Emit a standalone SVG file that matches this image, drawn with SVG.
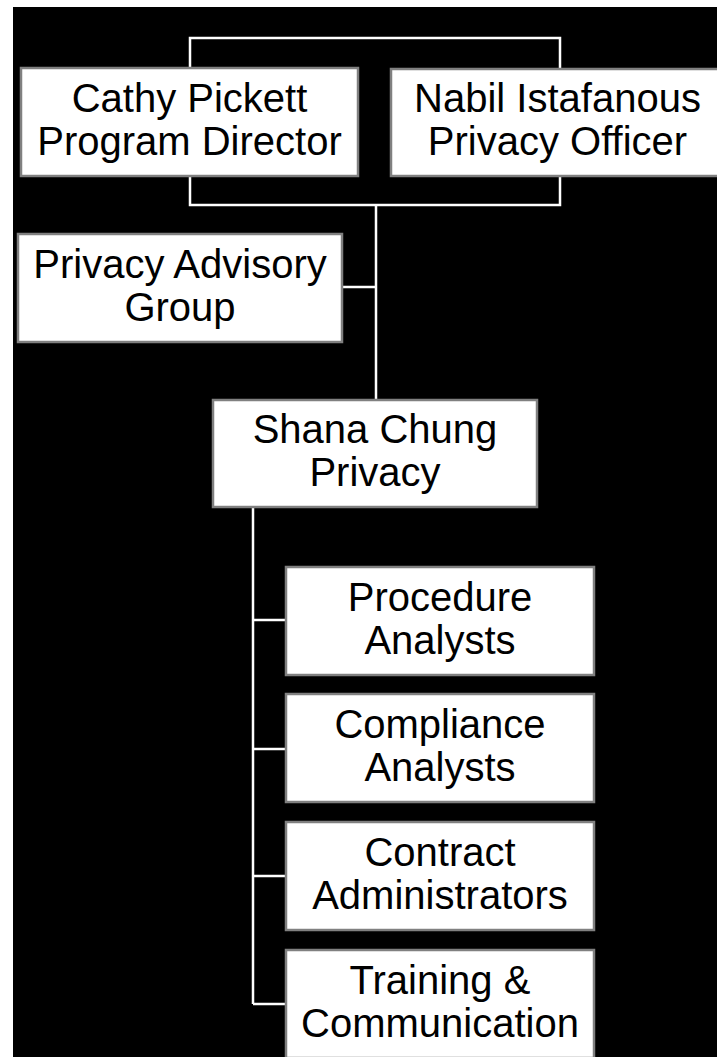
<svg xmlns="http://www.w3.org/2000/svg" width="717" height="1057" viewBox="0 0 717 1057">
<style>
.box{fill:#fff;stroke:#808080;stroke-width:2.5}
.lbl{font-family:"Liberation Sans",Arial,sans-serif;font-size:40px;fill:#000;text-anchor:middle}
.conn{fill:none;stroke:#fff;stroke-width:2.5}
</style>
<rect x="0" y="0" width="717" height="1057" fill="#fff"/>
<rect x="13" y="7" width="704" height="1050" fill="#000"/>
<g id="connectors">
<rect class="conn" x="190" y="38" width="370" height="167"/>
<path class="conn" d="M376 205V400M342 287H376M253 507V1004M253 620H286M253 749H286M253 876H286M253 1004H286"/>
</g>
<g id="cathy">
<rect class="box" x="21" y="68" width="337" height="108"/>
<text class="lbl" x="189.5" y="112">Cathy Pickett</text>
<text class="lbl" x="189.5" y="155">Program Director</text>
</g>
<g id="nabil">
<rect class="box" x="391" y="69" width="333" height="107"/>
<text class="lbl" x="557.5" y="112">Nabil Istafanous</text>
<text class="lbl" x="557.5" y="155">Privacy Officer</text>
</g>
<g id="advisory">
<rect class="box" x="18" y="234" width="324" height="108"/>
<text class="lbl" x="180" y="277.5">Privacy Advisory</text>
<text class="lbl" x="180" y="320.5">Group</text>
</g>
<g id="shana">
<rect class="box" x="213" y="400" width="324" height="107"/>
<text class="lbl" x="375" y="443">Shana Chung</text>
<text class="lbl" x="375" y="486">Privacy</text>
</g>
<g id="procedure">
<rect class="box" x="286" y="567" width="308" height="108"/>
<text class="lbl" x="440" y="610.5">Procedure</text>
<text class="lbl" x="440" y="653.5">Analysts</text>
</g>
<g id="compliance">
<rect class="box" x="286" y="694" width="308" height="108"/>
<text class="lbl" x="440" y="737.5">Compliance</text>
<text class="lbl" x="440" y="780.5">Analysts</text>
</g>
<g id="contract">
<rect class="box" x="286" y="822" width="308" height="108"/>
<text class="lbl" x="440" y="865.5">Contract</text>
<text class="lbl" x="440" y="908.5">Administrators</text>
</g>
<g id="training">
<rect class="box" x="286" y="950" width="308" height="108"/>
<text class="lbl" x="440" y="993.5">Training &amp;</text>
<text class="lbl" x="440" y="1036.5">Communication</text>
</g>
</svg>
